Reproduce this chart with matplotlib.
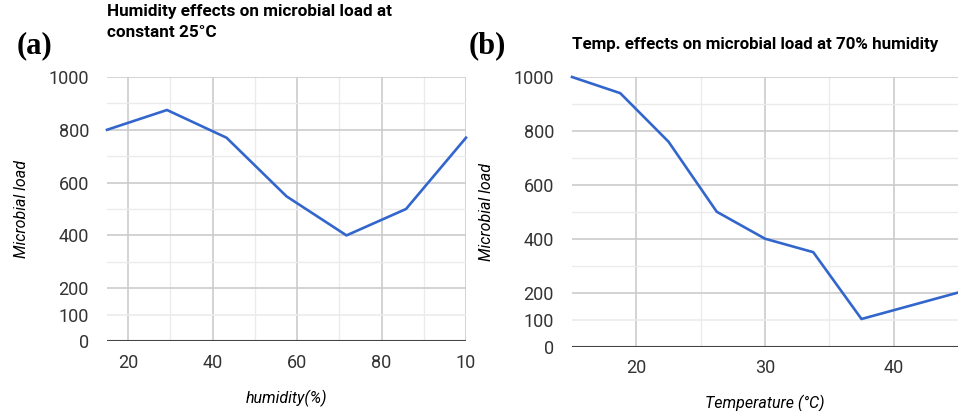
import matplotlib.pyplot as plt

plt.rcParams['font.family'] = ['Roboto', 'DejaVu Sans']

# humidity panel (a)
hum_x = [15, 29.2, 43.3, 57.5, 71.7, 85.8, 100]
hum_load = [800, 875, 770, 548, 400, 500, 770]
hum_xticks = [20, 40, 60, 80, 100]
hum_xticklabels = ['20', '40', '60', '80', '10']

# temperature panel (b)
temp_x = [15, 18.75, 22.5, 26.25, 30, 33.75, 37.5, 45]
temp_load = [1000, 940, 760, 500, 400, 350, 102, 200]
temp_xticks = [20, 30, 40]

y_ticks = [0, 100, 200, 400, 600, 800, 1000]
y_minor = [300, 500, 700, 900]

blue = '#3366cc'


def style_axes(ax, xlim, xmajor, xminor, xlabels, xlabel):
    ax.set_xlim(*xlim)
    ax.set_ylim(0, 1000)
    for v in xmajor:
        ax.axvline(v, color='#cccccc', lw=1.2, zorder=0)
    for v in xminor:
        ax.axvline(v, color='#ebebeb', lw=1.0, zorder=0)
    for v in y_ticks[1:]:
        c = '#ebebeb' if v == 100 else '#cccccc'
        ax.axhline(v, color=c, lw=1.2, zorder=0)
    for v in y_minor:
        ax.axhline(v, color='#ebebeb', lw=1.0, zorder=0)
    ax.axhline(0, color='#444444', lw=1.5, zorder=1)
    for s in ax.spines.values():
        s.set_visible(False)
    ax.set_xticks(xmajor)
    ax.set_xticklabels(xlabels)
    ax.set_yticks(y_ticks)
    ax.tick_params(length=0, labelsize=13, colors='#333333')
    ax.tick_params(axis='y', pad=13)
    ax.tick_params(axis='x', pad=9)
    ax.set_xlabel(xlabel, fontsize=11.5, style='italic', labelpad=13)
    ax.set_ylabel('Microbial load', fontsize=11.5, style='italic', labelpad=14)


fig = plt.figure(figsize=(9.58, 4.11), dpi=100)
ax1 = fig.add_axes([107 / 958, 1 - 341 / 411, (466 - 107) / 958, (341 - 77) / 411])
ax2 = fig.add_axes([572 / 958, 1 - 346.5 / 411, (958 - 572) / 958, (346.5 - 77) / 411])

ax1.plot(hum_x, hum_load, color=blue, lw=1.9, clip_on=False, zorder=3)
style_axes(ax1, (15, 100), hum_xticks, [30, 50, 70, 90], hum_xticklabels, 'humidity(%)')

ax2.plot(temp_x, temp_load, color=blue, lw=1.9, clip_on=False, zorder=3)
style_axes(ax2, (15, 45), temp_xticks, [25, 35],
           [str(t) for t in temp_xticks], 'Temperature (°C)')

fig.text(107 / 958, 1 - 22 / 411, 'Humidity effects on microbial load at\nconstant 25°C',
         fontsize=12.3, fontweight='bold', va='center', ha='left', linespacing=1.45)
fig.text(572 / 958, 1 - 44 / 411, 'Temp. effects on microbial load at 70% humidity',
         fontsize=12.2, fontweight='bold', va='center', ha='left')

fig.text(17 / 958, 1 - 46 / 411, '(a)', family=['Liberation Serif', 'DejaVu Serif'],
         fontsize=22, fontweight='bold', va='center', ha='left')
fig.text(469 / 958, 1 - 46 / 411, '(b)', family=['Liberation Serif', 'DejaVu Serif'],
         fontsize=22, fontweight='bold', va='center', ha='left')

fig.savefig('out.png', dpi=100)
